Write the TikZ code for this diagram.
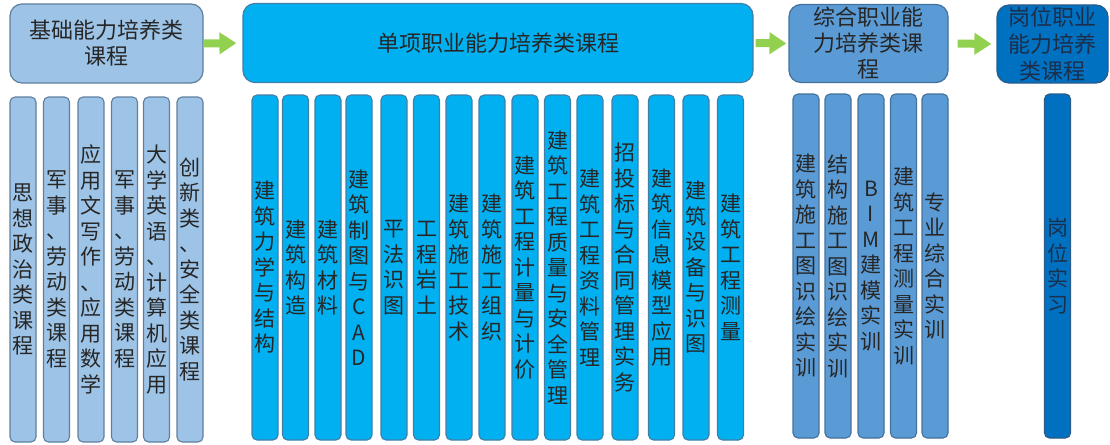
\documentclass[tikz,border=0pt]{standalone}
\usepackage{fontspec}
\setmainfont{Noto Sans CJK SC}
\usetikzlibrary{arrows.meta}
\definecolor{fillA}{HTML}{9DC3E6}
\definecolor{fillB}{HTML}{00B0F0}
\definecolor{fillC}{HTML}{5B9BD5}
\definecolor{fillD}{HTML}{0070C0}
\definecolor{bordA}{HTML}{5F7F9E}
\definecolor{bordB}{HTML}{3F7FA8}
\definecolor{bordC}{HTML}{41719C}
\definecolor{bordD}{HTML}{2A5A8A}
\definecolor{arrowgreen}{HTML}{92D050}
\definecolor{txtdark}{HTML}{262626}
\definecolor{txtnavy}{HTML}{1C2E4A}
\begin{document}
\begin{tikzpicture}[x=1pt,y=-1pt,
  hbox/.style={line width=1.2pt, rounded corners=12pt, align=center, inner sep=0pt,
    font=\fontsize{22}{26}\selectfont, text=txtdark},
  vbar/.style={line width=1.1pt, rounded corners=5pt, minimum width=26pt, align=center,
    inner sep=0pt, font=\fontsize{21}{25.5}\selectfont, text=txtdark},
  gone/.style={vbar, draw=bordA, fill=fillA, minimum height=345pt},
  gtwo/.style={vbar, draw=bordB, fill=fillB, minimum height=345pt},
  gthree/.style={vbar, draw=bordC, fill=fillC, minimum height=344pt},
  gfour/.style={vbar, draw=bordD, fill=fillD, minimum height=344pt, text=txtnavy},
  harrow/.style={draw=arrowgreen, line width=8pt, -{Triangle[length=17pt,width=21pt]}}
]
\useasboundingbox (0,0) rectangle (1110,444);
% headers
\node[hbox, draw=bordA, fill=fillA, minimum width=193pt, minimum height=79pt] (h1) at (106.5,43.5) {基础能力培养类\\课程};
\node[hbox, draw=bordB, fill=fillB, minimum width=510pt, minimum height=79pt] (h2) at (498,43) {单项职业能力培养类课程};
\node[hbox, draw=bordC, fill=fillC, minimum width=159pt, minimum height=78pt] (h3) at (868.5,43.5) {综合职业能\\力培养类课\\程};
\node[hbox, draw=bordD, fill=fillD, minimum width=111pt, minimum height=78pt, text=txtnavy,
  font=\fontsize{22}{27}\selectfont] (h4) at (1052.5,44) {岗位职业\\能力培养\\类课程};
% arrows
\draw[harrow, shorten >=6pt] (h1.east) -- (h2.west);
\draw[harrow, shorten <=2pt, shorten >=2pt] (h2.east) -- (h3.west);
\draw[harrow, shorten <=9pt, shorten >=5pt] (h3.east) -- (h4.west);
% group 1
\node[gone] (a1) at (23,269.5) {思\\想\\政\\治\\类\\课\\程};
\node[gone] (a2) at (56.5,269.5) {军\\事\\、\\劳\\动\\类\\课\\程};
\node[gone] (a3) at (91,269.5) {应\\用\\文\\写\\作\\、\\应\\用\\数\\学};
\node[gone] (a4) at (124.5,269.5) {军\\事\\、\\劳\\动\\类\\课\\程};
\node[gone] (a5) at (156.5,269.5) {大\\学\\英\\语\\、\\计\\算\\机\\应\\用};
\node[gone] (a6) at (190,269.5) {创\\新\\类\\、\\安\\全\\类\\课\\程};
% group 2
\node[gtwo] (b1) at (265,267.5) {建\\筑\\力\\学\\与\\结\\构};
\node[gtwo] (b2) at (295.5,267.5) {建\\筑\\构\\造};
\node[gtwo] (b3) at (328,267.5) {建\\筑\\材\\料};
\node[gtwo] (b4) at (359,267.5) {建\\筑\\制\\图\\与\\C\\A\\D};
\node[gtwo] (b5) at (394,267.5) {平\\法\\识\\图};
\node[gtwo] (b6) at (426.5,267.5) {工\\程\\岩\\土};
\node[gtwo] (b7) at (459,267.5) {建\\筑\\施\\工\\技\\术};
\node[gtwo] (b8) at (492,267.5) {建\\筑\\施\\工\\组\\织};
\node[gtwo] (b9) at (525,267.5) {建\\筑\\工\\程\\计\\量\\与\\计\\价};
\node[gtwo] (b10) at (557.5,267.5) {建\\筑\\工\\程\\质\\量\\与\\安\\全\\管\\理};
\node[gtwo] (b11) at (590,267.5) {建\\筑\\工\\程\\资\\料\\管\\理};
\node[gtwo] (b12) at (625,267.5) {招\\投\\标\\与\\合\\同\\管\\理\\实\\务};
\node[gtwo] (b13) at (661.5,267.5) {建\\筑\\信\\息\\模\\型\\应\\用};
\node[gtwo] (b14) at (696,267.5) {建\\筑\\设\\备\\与\\识\\图};
\node[gtwo] (b15) at (730.5,267.5) {建\\筑\\工\\程\\测\\量};
% group 3
\node[gthree] (c1) at (806,266) {建\\筑\\施\\工\\图\\识\\绘\\实\\训};
\node[gthree] (c2) at (838,266) {结\\构\\施\\工\\图\\识\\绘\\实\\训};
\node[gthree] (c3) at (871,266) {B\\I\\M\\建\\模\\实\\训};
\node[gthree] (c4) at (903.5,266) {建\\筑\\工\\程\\测\\量\\实\\训};
\node[gthree] (c5) at (935,266) {专\\业\\综\\合\\实\\训};
% group 4
\node[gfour] (d1) at (1057.5,266) {岗\\位\\实\\习};
\end{tikzpicture}
\end{document}
